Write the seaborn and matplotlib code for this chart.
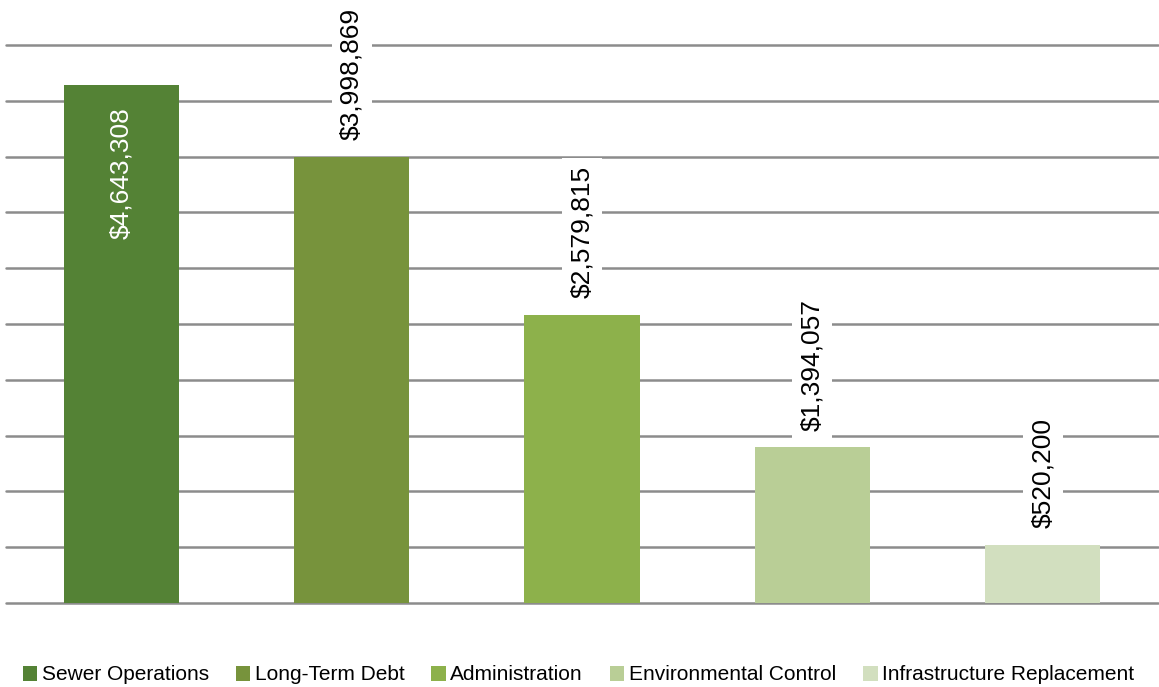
import matplotlib
matplotlib.use("Agg")
import matplotlib.pyplot as plt
from matplotlib.patches import Patch
import seaborn as sns
import pandas as pd

categories = ["Sewer Operations", "Long-Term Debt", "Administration",
              "Environmental Control", "Infrastructure Replacement"]
values = [4643308, 3998869, 2579815, 1394057, 520200]
colors = ["#548235", "#77933C", "#8DB14B", "#B9CE96", "#D2DFBF"]
y_ticks = [0, 500000, 1000000, 1500000, 2000000, 2500000,
           3000000, 3500000, 4000000, 4500000, 5000000]

sns.set_theme(style="white")
plt.rcParams["font.family"] = ["Liberation Sans", "DejaVu Sans"]
plt.rcParams["text.color"] = "black"

df = pd.DataFrame({"category": categories, "value": values})

fig = plt.figure(figsize=(11.59, 6.87), dpi=100)
ax = fig.add_axes([6 / 1159, 84 / 687, 1152 / 1159, 558 / 687])

sns.barplot(data=df, x="category", y="value", hue="category",
            palette=colors, width=0.5, legend=False, ax=ax,
            saturation=1, linewidth=0, edgecolor="none", zorder=2)

ax.set_xlim(-0.5, len(categories) - 0.5)
ax.set_ylim(0, y_ticks[-1])
ax.set_yticks(y_ticks)
ax.yaxis.grid(True, color="#8C8C8C", linewidth=1.8)
for gl in ax.get_ygridlines():
    gl.set_clip_on(False)
ax.set_axisbelow(True)
ax.tick_params(left=False, bottom=False, labelleft=False, labelbottom=False)
ax.set_xlabel("")
ax.set_ylabel("")
for s in ax.spines.values():
    s.set_visible(False)

for i, v in enumerate(values):
    label = f"${v:,.0f}"
    if i == 0:
        ax.annotate(label, xy=(i, v), xytext=(0, -16), textcoords="offset points",
                    rotation=90, ha="center", va="top", fontsize=19,
                    color="white", zorder=4)
    else:
        ax.annotate(label, xy=(i, v), xytext=(0, 12), textcoords="offset points",
                    rotation=90, ha="center", va="bottom", fontsize=19,
                    color="black", zorder=4,
                    bbox=dict(boxstyle="square,pad=0.3", fc="white", ec="none"))

handles = [Patch(facecolor=c, edgecolor="none") for c in colors]
fig.legend(handles, categories, loc="center", bbox_to_anchor=(0.499, 12 / 687),
           ncol=5, frameon=False, fontsize=15, handlelength=0.7, handleheight=0.7,
           handletextpad=0.2, columnspacing=1.3, labelcolor="black")

fig.savefig("out.png", dpi=100)
